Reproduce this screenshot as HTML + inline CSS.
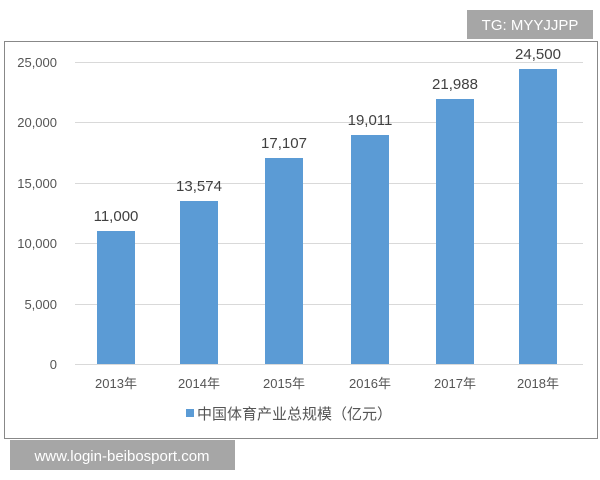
<!DOCTYPE html>
<html><head><meta charset="utf-8"><style>
html,body{margin:0;padding:0;background:#fff;width:600px;height:480px;overflow:hidden}
svg text{font-family:"Liberation Sans","Noto Sans CJK SC",sans-serif}
</style></head><body>
<svg width="600" height="480" xmlns="http://www.w3.org/2000/svg">
<rect x="4.5" y="41.5" width="593" height="397" fill="#fff" stroke="#888" stroke-width="1"/>
<g stroke="#d9d9d9" stroke-width="1">
<line x1="75" x2="583" y1="62.5" y2="62.5"/>
<line x1="75" x2="583" y1="122.5" y2="122.5"/>
<line x1="75" x2="583" y1="183.5" y2="183.5"/>
<line x1="75" x2="583" y1="243.5" y2="243.5"/>
<line x1="75" x2="583" y1="304.5" y2="304.5"/>
<line x1="75" x2="583" y1="364.5" y2="364.5"/>
</g>
<g font-size="13" fill="#555" text-anchor="end">
<text x="57" y="67">25,000</text>
<text x="57" y="127">20,000</text>
<text x="57" y="188">15,000</text>
<text x="57" y="248">10,000</text>
<text x="57" y="309">5,000</text>
<text x="57" y="369">0</text>
</g>
<g fill="#5b9bd5">
<rect x="97" y="231" width="38" height="133"/>
<rect x="180" y="201" width="38" height="163"/>
<rect x="265" y="158" width="38" height="206"/>
<rect x="351" y="135" width="38" height="229"/>
<rect x="436" y="99" width="38" height="265"/>
<rect x="519" y="69" width="38" height="295"/>
</g>
<g font-size="15" fill="#404040" text-anchor="middle">
<text x="116" y="221">11,000</text>
<text x="199" y="191">13,574</text>
<text x="284" y="148">17,107</text>
<text x="370" y="125">19,011</text>
<text x="455" y="89">21,988</text>
<text x="538" y="59">24,500</text>
</g>
<g font-size="13" fill="#555" text-anchor="middle">
<text x="116" y="388">2013年</text>
<text x="199" y="388">2014年</text>
<text x="284" y="388">2015年</text>
<text x="370" y="388">2016年</text>
<text x="455" y="388">2017年</text>
<text x="538" y="388">2018年</text>
</g>
<rect x="186" y="409" width="8" height="8" fill="#5b9bd5"/>
<text x="197" y="419" font-size="15" fill="#555">中国体育产业总规模（亿元）</text>
<rect x="467" y="10" width="126" height="29" fill="#a6a6a6"/>
<text x="530" y="30" font-size="15" fill="#fff" text-anchor="middle">TG: MYYJJPP</text>
<rect x="10" y="440" width="225" height="30" fill="#a6a6a6"/>
<text x="122" y="461" font-size="15" fill="#fff" text-anchor="middle">www.login-beibosport.com</text>
</svg>
</body></html>
